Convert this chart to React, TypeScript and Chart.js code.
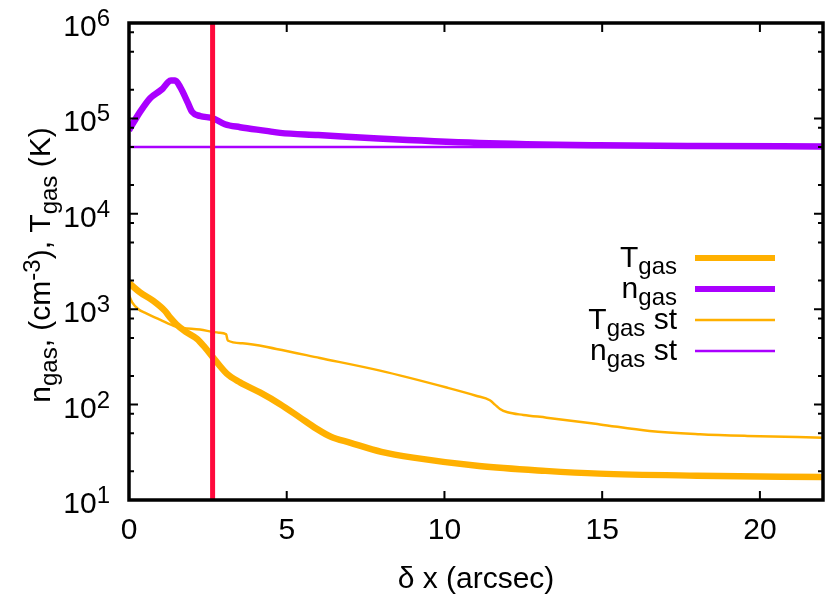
import React, { useEffect, useRef } from 'react';
import { Chart, registerables } from 'chart.js';

Chart.register(...registerables);

// ---- data ----
const tgasX = [0, 0.35, 0.76, 1.14, 1.3, 1.51, 1.8, 2.15, 2.4, 2.66, 3.1, 3.52, 4.15, 4.79, 5.4, 5.94, 6.4, 7.0, 8.0, 9.01, 11.1, 13.2, 14.9, 18, 22];
const tgasY = [1880, 1500, 1230, 960, 820, 690, 580, 490, 400, 313, 211, 171, 134, 101, 74, 56, 46, 40, 32, 27.8, 22.7, 20.2, 18.9, 18.0, 17.4];

const ngasX = [0, 0.35, 0.67, 0.98, 1.08, 1.24, 1.33, 1.46, 1.62, 1.87, 2.0, 2.25, 2.66, 3.04, 3.52, 4.35, 4.79, 6.0, 7.9, 11.1, 14.9, 18, 22];
const ngasY = [75200, 117000, 163000, 194500, 207500, 240000, 249000, 249000, 214000, 144500, 117000, 106000, 100400, 86900, 80900, 74000, 70500, 67000, 61500, 55300, 52300, 51300, 50800];

const tgasStX = [0, 0.1, 0.3, 0.5, 0.98, 1.5, 2.25, 2.85, 3.08, 3.13, 3.6, 4.67, 6.05, 7.96, 10.07, 11.0, 11.44, 11.6, 11.76, 12.0, 12.5, 13.24, 14.93, 16.5, 18.1, 19.6, 22];
const tgasStY = [1400, 1180, 1000, 920, 777, 656, 611, 568, 545, 470, 440, 383, 308, 227, 151, 124, 111, 100, 90, 83, 78, 73, 62, 53, 49, 47, 45];

const ngasStX = [0, 22];
const ngasStY = [50000, 50000];

const markerX = [2.65, 2.65];
const markerY = [10, 1e6];

const xTicks = [0, 5, 10, 15, 20];
const xTickLabels = ['0', '5', '10', '15', '20'];
const yDecades = [1, 2, 3, 4, 5, 6];
const yMinorMultipliers = [2, 5, 8];

const xTitle = 'δ x (arcsec)';

// ---- styles ----
const ORANGE = '#ffb000';
const PURPLE = '#aa00ff';
const RED = '#ff0a3c';
const FONT = '"Liberation Sans", Arial, sans-serif';
const MAIN = 30;
const SMALL = 24;

type Part = { t: string; k?: 'sub' | 'sup' };

const yTitleParts: Part[] = [
  { t: 'n' }, { t: 'gas', k: 'sub' }, { t: ', (cm' }, { t: '-3', k: 'sup' },
  { t: '), T' }, { t: 'gas', k: 'sub' }, { t: ' (K)' },
];

const legendEntries: { parts: Part[]; color: string; width: number }[] = [
  { parts: [{ t: 'T' }, { t: 'gas', k: 'sub' }], color: ORANGE, width: 6 },
  { parts: [{ t: 'n' }, { t: 'gas', k: 'sub' }], color: PURPLE, width: 6 },
  { parts: [{ t: 'T' }, { t: 'gas', k: 'sub' }, { t: ' st' }], color: ORANGE, width: 2.5 },
  { parts: [{ t: 'n' }, { t: 'gas', k: 'sub' }, { t: ' st' }], color: PURPLE, width: 2.5 },
];

function partFont(p: Part) {
  return `${p.k ? SMALL : MAIN}px ${FONT}`;
}
function measureParts(ctx: CanvasRenderingContext2D, parts: Part[]) {
  let w = 0;
  for (const p of parts) {
    ctx.font = partFont(p);
    w += ctx.measureText(p.t).width;
  }
  return w;
}
function drawParts(ctx: CanvasRenderingContext2D, parts: Part[], x: number, y: number) {
  let cx = x;
  ctx.textAlign = 'left';
  ctx.textBaseline = 'alphabetic';
  for (const p of parts) {
    ctx.font = partFont(p);
    const dy = p.k === 'sub' ? 7 : p.k === 'sup' ? -10 : 0;
    ctx.fillText(p.t, cx, y + dy);
    cx += ctx.measureText(p.t).width;
  }
}

const pts = (xs: number[], ys: number[]) => xs.map((x, i) => ({ x, y: ys[i] }));

const framePlugin = {
  id: 'gnuplotFrame',
  afterDatasetsDraw(chart: any) {
    const ctx: CanvasRenderingContext2D = chart.ctx;
    const { left, right, top, bottom } = chart.chartArea;
    const xs = chart.scales.x;
    const ys = chart.scales.y;
    ctx.save();
    ctx.fillStyle = '#000';
    ctx.strokeStyle = '#000';

    // ticks
    ctx.lineWidth = 2;
    ctx.beginPath();
    for (const v of xTicks) {
      const px = xs.getPixelForValue(v);
      ctx.moveTo(px, bottom); ctx.lineTo(px, bottom - 9);
      ctx.moveTo(px, top); ctx.lineTo(px, top + 9);
    }
    for (const d of yDecades) {
      const py = ys.getPixelForValue(Math.pow(10, d));
      ctx.moveTo(left, py); ctx.lineTo(left + 9, py);
      ctx.moveTo(right, py); ctx.lineTo(right - 9, py);
      if (d < 6) {
        for (const m of yMinorMultipliers) {
          const pm = ys.getPixelForValue(m * Math.pow(10, d));
          ctx.moveTo(left, pm); ctx.lineTo(left + 5, pm);
          ctx.moveTo(right, pm); ctx.lineTo(right - 5, pm);
        }
      }
    }
    ctx.stroke();

    // border
    ctx.lineWidth = 3.5;
    ctx.strokeRect(left, top, right - left, bottom - top);

    // x tick labels
    ctx.font = `${MAIN}px ${FONT}`;
    ctx.textAlign = 'center';
    ctx.textBaseline = 'alphabetic';
    xTicks.forEach((v, i) => {
      ctx.fillText(xTickLabels[i], xs.getPixelForValue(v), 539);
    });

    // y tick labels 10^d
    for (const d of yDecades) {
      const py = ys.getPixelForValue(Math.pow(10, d));
      const parts: Part[] = [{ t: '10' }, { t: String(d), k: 'sup' }];
      const w = measureParts(ctx, parts);
      drawParts(ctx, parts, 110 - w, py + 13);
    }

    // x title
    ctx.font = `${MAIN}px ${FONT}`;
    ctx.textAlign = 'center';
    ctx.fillText(xTitle, (left + right) / 2, 588);

    // y title (rotated)
    const tw = measureParts(ctx, yTitleParts);
    ctx.save();
    ctx.translate(50, 265);
    ctx.rotate(-Math.PI / 2);
    drawParts(ctx, yTitleParts, -tw / 2, 0);
    ctx.restore();

    // legend
    legendEntries.forEach((e, i) => {
      const ly = 258 + i * 31;
      const w = measureParts(ctx, e.parts);
      ctx.fillStyle = '#000';
      drawParts(ctx, e.parts, 677 - w, ly + 9);
      ctx.strokeStyle = e.color;
      ctx.lineWidth = e.width;
      ctx.lineCap = 'butt';
      ctx.beginPath();
      ctx.moveTo(695, ly);
      ctx.lineTo(775, ly);
      ctx.stroke();
    });

    ctx.restore();
  },
};

export default function App() {
  const ref = useRef<HTMLCanvasElement | null>(null);
  useEffect(() => {
    document.body.style.margin = '0';
    const canvas = ref.current;
    if (!canvas) return;
    const common = { pointRadius: 0, pointHoverRadius: 0, borderJoinStyle: 'round' as const, borderCapStyle: 'butt' as const, fill: false };
    const smooth = { cubicInterpolationMode: 'monotone' as const };
    const chart = new Chart(canvas, {
      type: 'line',
      data: {
        datasets: [
          { ...common, label: 'marker', data: pts(markerX, markerY), borderColor: RED, borderWidth: 5, order: 0 },
          { ...common, ...smooth, label: 'Tgas st', data: pts(tgasStX, tgasStY), borderColor: ORANGE, borderWidth: 2.5, order: 1 },
          { ...common, label: 'ngas st', data: pts(ngasStX, ngasStY), borderColor: PURPLE, borderWidth: 2.5, order: 1 },
          { ...common, ...smooth, label: 'Tgas', data: pts(tgasX, tgasY), borderColor: ORANGE, borderWidth: 6.5, order: 2 },
          { ...common, ...smooth, label: 'ngas', data: pts(ngasX, ngasY), borderColor: PURPLE, borderWidth: 6.5, order: 2 },
        ],
      },
      options: {
        animation: false,
        responsive: false,
        devicePixelRatio: 1,
        layout: { padding: { left: 129, top: 23, right: 2, bottom: 97 } },
        plugins: { legend: { display: false }, tooltip: { enabled: false } },
        scales: {
          x: { type: 'linear', min: 0, max: 22, display: false },
          y: { type: 'logarithmic', min: 10, max: 1e6, display: false },
        },
      },
      plugins: [framePlugin],
    });
    return () => chart.destroy();
  }, []);
  return <canvas ref={ref} width={825} height={597} style={{ display: 'block' }} />;
}
